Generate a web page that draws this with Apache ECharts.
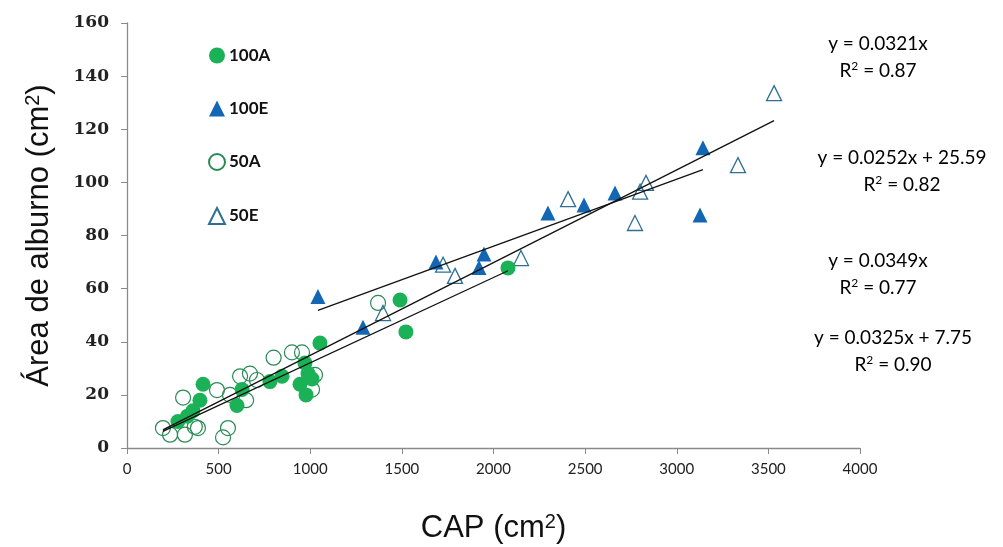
<!DOCTYPE html>
<html><head><meta charset="utf-8">
<script src="https://cdn.jsdelivr.net/npm/echarts@6/dist/echarts.min.js"></script>
<style>html,body{margin:0;padding:0;background:#fff}#c{width:1003px;height:547px}</style>
</head><body><div id="c"></div>
<script>
var xTicks = [0,500,1000,1500,2000,2500,3000,3500,4000];
var yTicks = [0,20,40,60,80,100,120,140,160];
var s100A = [[278,10],[330,12],[360,14],[398,18],[415,24],[600,16],[628,22],[780,25],[846,27],[944,24],[971,32],[977,20],[988,28],[1010,26],[1053,39.5],[1490,55.7],[1522,43.7],[2079,67.8]];
var s100E = [[1042,57],[1288,45.5],[1686,70],[1921,68],[1948,73],[2297,88.5],[2494,91.5],[2663,96],[3127,87.7],[3143,113]];
var s50A = [[196,7.5],[235,5],[306,19],[316,5],[370,8],[387,7.5],[491,21.8],[524,4],[551,7.5],[562,20],[617,27],[650,18],[671,28],[709,25.6],[800,34],[900,36],[955,36],[1026,27.5],[1010,22],[1370,54.6]];
var s50E = [[1397,50.8],[1725,69],[1790,64.8],[2150,71.5],[2407,93.7],[2772,84.7],[2800,96.5],[2832,99.8],[3334,106.5],[3531,133.6]];
// trendlines: [slope, intercept, xStart, xEnd]
var trends = [[0.0321,0,196,2079],[0.0252,25.59,1042,3143],[0.0349,0,196,3531]];
var eqLines = [["y = 0.0321x","0.87"],["y = 0.0252x + 25.59","0.82"],["y = 0.0349x","0.77"],["y = 0.0325x + 7.75","0.90"]];

var chart = echarts.init(document.getElementById('c'));
var lineSeries = trends.map(function(t){
  return {type:'line', data:[[t[2],t[0]*t[2]+t[1]],[t[3],t[0]*t[3]+t[1]]], symbol:'none',
    lineStyle:{color:'#111',width:1.3}, silent:true, z:5};
});
var eqPos = [[878,44],[902,158],[878,261],[893,338]];
var richEq = {
  a:{fontFamily:'Lato',fontSize:19,color:'#111',lineHeight:27},
  s:{fontFamily:'Lato',fontSize:12,color:'#111',padding:[0,0,9,0],lineHeight:27}
};
var graphics = [];
eqLines.forEach(function(e,i){
  graphics.push({type:'text', x:eqPos[i][0], y:eqPos[i][1],
    style:{text:'{a|'+e[0]+'}', rich:richEq, textAlign:'center', textVerticalAlign:'middle'}});
  graphics.push({type:'text', x:eqPos[i][0], y:eqPos[i][1]+27,
    style:{text:'{a|R}{s|2}{a| = '+e[1]+'}', rich:richEq, textAlign:'center', textVerticalAlign:'middle'}});
});
var richTitle = {
  a:{fontFamily:'Liberation Sans',fontSize:31,color:'#111'},
  s:{fontFamily:'Liberation Sans',fontSize:20,color:'#111',padding:[0,0,12,0]}
};
chart.setOption({
  animation:false,
  grid:{left:127,right:143,top:23,bottom:99,outerBoundsMode:'none',containLabel:false},
  legend:{orient:'vertical', left:203, top:42, itemGap:36, itemWidth:16, itemHeight:16,
    data:['100A','100E','50A','50E'],
    textStyle:{fontFamily:'Lato',fontWeight:'bold',fontSize:17,color:'#111',padding:[0,0,0,-1]}},
  xAxis:{type:'value',min:0,max:4000,interval:500,
    name:'{a|CAP (cm}{s|2}{a|)}', nameLocation:'middle', nameGap:64, nameTextStyle:{rich:richTitle},
    axisLine:{lineStyle:{color:'#8a8a8a',width:1.3}}, axisTick:{inside:false,length:6,lineStyle:{color:'#8a8a8a'}},
    splitLine:{show:false}, axisLabel:{fontFamily:'Lato',fontSize:15,color:'#222',margin:14,formatter:function(v){return String(v);}}},
  yAxis:{type:'value',min:0,max:160,interval:20,
    name:'{a|Área de alburno (cm}{s|2}{a|)}', nameLocation:'middle', nameGap:72, nameRotate:90, nameTextStyle:{rich:richTitle},
    axisLine:{show:true,lineStyle:{color:'#8a8a8a',width:1.3}}, axisTick:{show:true,length:6,lineStyle:{color:'#8a8a8a'}},
    splitLine:{show:false}, axisLabel:{fontFamily:'DejaVu Serif',fontWeight:'bold',fontSize:17,color:'#222',margin:18}},
  graphic:graphics,
  series:[
    {name:'100A',type:'scatter',symbol:'circle',symbolSize:15,data:s100A,itemStyle:{color:'#1bb157',opacity:1},z:3},
    {name:'100E',type:'scatter',symbol:'triangle',symbolSize:15,data:s100E,itemStyle:{color:'#1366b3',opacity:1},z:3},
    {name:'50A',type:'scatter',symbol:'circle',symbolSize:15,data:s50A,itemStyle:{color:'rgba(255,255,255,0)',borderColor:'#2a8a55',borderWidth:1.2,opacity:1},z:2},
    {name:'50E',type:'scatter',symbol:'triangle',symbolSize:15,data:s50E,itemStyle:{color:'rgba(255,255,255,0)',borderColor:'#2f6f93',borderWidth:1.3,opacity:1},z:2}
  ].concat(lineSeries)
});
</script></body></html>
